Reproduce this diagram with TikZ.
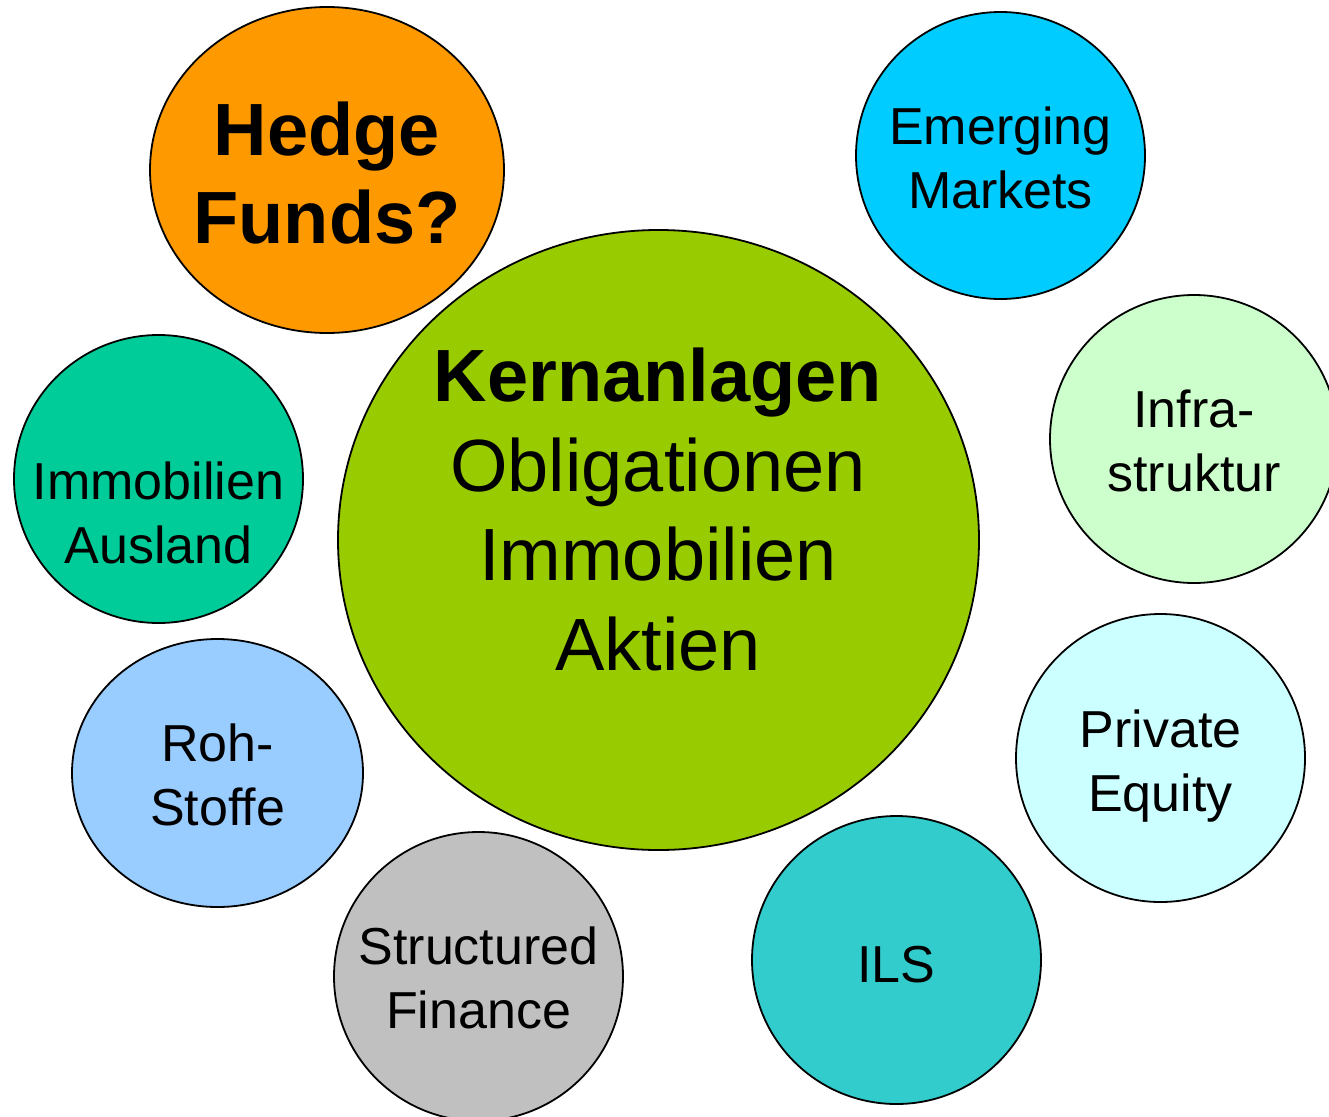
\documentclass[tikz,border=0pt]{standalone}
\usepackage{fontspec}
\setmainfont[Ligatures=NoCommon]{Liberation Sans}
\usetikzlibrary{shapes.geometric}
\definecolor{cCore}{HTML}{99CC00}
\definecolor{cHedge}{HTML}{FF9900}
\definecolor{cEmerg}{HTML}{00CCFF}
\definecolor{cInfra}{HTML}{CCFFCC}
\definecolor{cImmo}{HTML}{00CC99}
\definecolor{cRoh}{HTML}{99CCFF}
\definecolor{cPriv}{HTML}{CCFFFF}
\definecolor{cILS}{HTML}{33CCCC}
\definecolor{cStruct}{HTML}{C0C0C0}
\tikzset{
  bubble/.style={ellipse, draw=black, line width=1.8pt, inner sep=0pt, outer sep=0pt},
  btext/.style={anchor=base, align=center, inner sep=0pt, text=black,
                font=\fontsize{52}{64}\selectfont},
  bigtext/.style={anchor=base, align=center, inner sep=0pt, text=black,
                font=\fontsize{74}{89.5}\selectfont}
}
\begin{document}
\begin{tikzpicture}[x=1pt,y=-1pt]
\useasboundingbox (0,0) rectangle (1329,1116);
\fill[white] (0,0) rectangle (1329,1116);

% core asset class in the middle
\node[bubble, fill=cCore, minimum width=641pt, minimum height=620pt] (core) at (658.5,540) {};
\node[bigtext] (coreT) at (658,670) {\textbf{Kernanlagen}\\Obligationen\\Immobilien\\Aktien};

% satellite asset classes
\node[bubble, fill=cHedge, minimum width=354pt, minimum height=326pt] (hedge) at (327,170) {};
\node[bigtext, font=\fontsize{74}{88}\selectfont\bfseries] (hedgeT) at (327,243) {Hedge\\Funds?};

\node[bubble, fill=cEmerg, minimum width=289pt, minimum height=287pt] (emerg) at (1000.5,155.5) {};
\node[btext] (emergT) at (1000.5,208) {Emerging\\Markets};

\node[bubble, fill=cInfra, minimum width=288pt, minimum height=288pt] (infra) at (1194,439) {};
\node[btext] (infraT) at (1194,491) {Infra-\\struktur};

\node[bubble, fill=cImmo, minimum width=289pt, minimum height=288pt] (immo) at (158.5,479) {};
\node[btext] (immoT) at (158.5,563) {Immobilien\\Ausland};

\node[bubble, fill=cRoh, minimum width=291pt, minimum height=268pt] (roh) at (217.5,773) {};
\node[btext] (rohT) at (217.5,825) {Roh-\\Stoffe};

\node[bubble, fill=cPriv, minimum width=289pt, minimum height=288pt] (priv) at (1160.5,758) {};
\node[btext] (privT) at (1160.5,811) {Private\\Equity};

\node[bubble, fill=cILS, minimum width=289pt, minimum height=288pt] (ils) at (896.5,960) {};
\node[btext] (ilsT) at (896.5,982) {ILS};

\node[bubble, fill=cStruct, minimum width=289pt, minimum height=289pt] (struct) at (478.5,976.5) {};
\node[btext] (structT) at (478.5,1028) {Structured\\Finance};
\end{tikzpicture}
\end{document}
